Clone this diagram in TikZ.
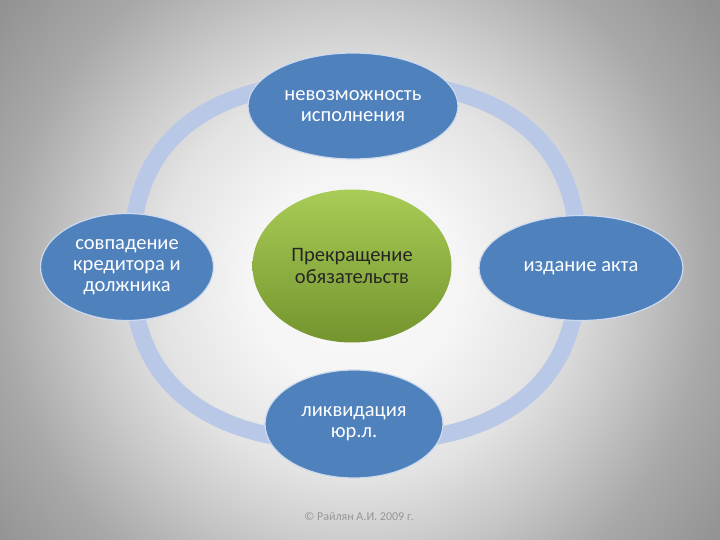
\documentclass[tikz,border=0pt]{standalone}
\usepackage{fontspec}
\setmainfont{Carlito}
\usetikzlibrary{shapes}
\definecolor{ringblue}{RGB}{184,200,230}
\definecolor{boxblue}{RGB}{79,129,189}
\definecolor{rimblue}{RGB}{205,218,238}
\definecolor{greentop}{RGB}{168,204,86}
\definecolor{greenbot}{RGB}{116,148,46}
\definecolor{notegray}{RGB}{150,150,150}
\pgfdeclareradialshading{backdrop}{\pgfpoint{0bp}{0bp}}{%
	color(0bp)=(white!98!black); color(6bp)=(white!96!black);
	color(11bp)=(white!89!black); color(15bp)=(white!79!black);
	color(19.7bp)=(white!66!black); color(25bp)=(white!57!black);
	color(30bp)=(white!55!black)}
\tikzset{
	outer/.style = {draw=rimblue, line width=1.2pt, ellipse, fill=boxblue, text=white,
		inner sep=0pt, align=center, font=\fontsize{20.5}{21}\selectfont},
	core/.style  = {ellipse, top color=greentop, bottom color=greenbot,
		inner sep=0pt, align=center, text=black!85, font=\fontsize{20.5}{21.5}\selectfont},
	note/.style  = {text=notegray, font=\fontsize{12}{13}\selectfont} % copyright line
}

\begin{document}
\begin{tikzpicture}[x=1pt, y=-1pt]
	\useasboundingbox (0,0) rectangle (720,540);
	\clip (0,0) rectangle (720,540);
	\shade[shading=backdrop] (-95,-170) rectangle (805,730);

	% ring behind the ellipses
	\draw[ringblue, line width=17pt, line join=round]
		plot[domain=1:361, samples=181, variable=\t]
		({355+223*sign(cos(\t))*pow(abs(cos(\t)),0.8)},
		 {262+180*sign(sin(\t))*pow(abs(sin(\t)),0.8)}) -- cycle;

	\draw
	node at (352,266)[core, minimum width=199pt, minimum height=153pt] (obligation) {Прекращение\\обязательств}
	node at (353,106)[outer, minimum width=210pt, minimum height=106pt] (impossible) {невозможность\\исполнения}
	node at (127,267)[outer, minimum width=173pt, minimum height=107pt] (coincide) {совпадение\\кредитора и\\должника}
	node at (581,268)[outer, minimum width=204pt, minimum height=105pt] (act) {издание акта}
	node at (354,424)[outer, minimum width=178pt, minimum height=108pt] (liquid) {ликвидация\\юр.л.}
	node at (359,516)[note] (copyright) {© Райлян А.И. 2009 г.};
\end{tikzpicture}
\end{document}
